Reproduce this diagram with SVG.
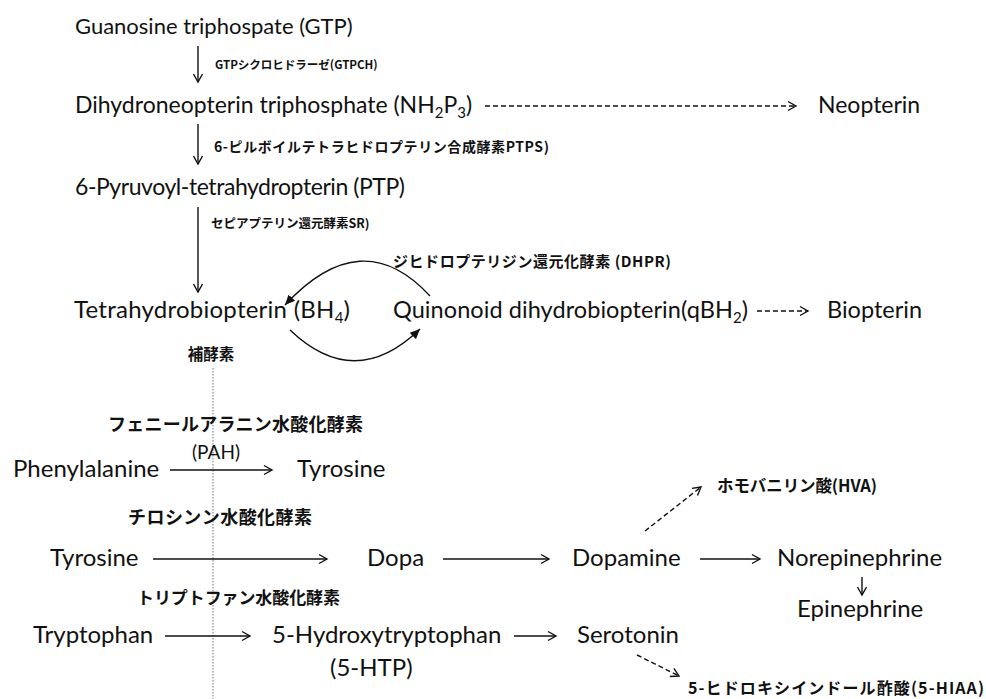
<svg xmlns="http://www.w3.org/2000/svg" width="986" height="699" viewBox="0 0 986 699">
<defs>
<style>
.t{font-family:Lato,"Open Sans","Liberation Sans",sans-serif;fill:#111}
.j{font-family:"Noto Sans CJK JP","Noto Sans",sans-serif;font-weight:bold;fill:#111}
.ln{stroke:#111;stroke-width:1.4;fill:none}
.dash{stroke:#111;stroke-width:1.4;fill:none;stroke-dasharray:5,3}
.dot{stroke:#888;stroke-width:1.2;fill:none;stroke-dasharray:1.5,1.5}
</style>
<marker id="v" markerWidth="12" markerHeight="12" refX="9" refY="6" orient="auto" markerUnits="userSpaceOnUse">
<path d="M1,1.5 L9,6 L1,10.5" fill="none" stroke="#111" stroke-width="1.4"/>
</marker>
<marker id="tri" markerWidth="14" markerHeight="12" refX="10" refY="6" orient="auto" markerUnits="userSpaceOnUse">
<path d="M0,1.5 L10,6 L0,10.5 Z" fill="#111"/>
</marker>
</defs>

<g id="connectors">
<line class="ln" x1="198" y1="46" x2="198" y2="82" marker-end="url(#v)"/>
<line class="ln" x1="198" y1="124" x2="198" y2="164" marker-end="url(#v)"/>
<line class="ln" x1="198" y1="207" x2="198" y2="292" marker-end="url(#v)"/>
<line class="dash" x1="485" y1="106" x2="796" y2="106" marker-end="url(#v)"/>
<path class="ln" d="M430,296 Q362,222 285,305" marker-end="url(#tri)"/>
<path class="ln" d="M290,330 Q355,392 420,329" marker-end="url(#tri)"/>
<line class="dash" x1="757" y1="311" x2="808" y2="311" stroke-dasharray="3,3" marker-end="url(#v)"/>
<line class="dot" x1="213" y1="368" x2="213" y2="699"/>
<line class="ln" x1="170" y1="470" x2="272" y2="470" marker-end="url(#v)"/>
<line class="ln" x1="153" y1="559" x2="327" y2="559" marker-end="url(#v)"/>
<line class="ln" x1="443" y1="559" x2="549" y2="559" marker-end="url(#v)"/>
<line class="ln" x1="700" y1="559" x2="760" y2="559" marker-end="url(#v)"/>
<line class="dash" x1="645" y1="531" x2="701" y2="487" stroke-dasharray="4,3" marker-end="url(#v)"/>
<line class="ln" x1="862" y1="577" x2="862" y2="595" marker-end="url(#v)"/>
<line class="ln" x1="165" y1="636" x2="250" y2="636" marker-end="url(#v)"/>
<line class="ln" x1="514" y1="636" x2="556" y2="636" marker-end="url(#v)"/>
<line class="dash" x1="637" y1="655" x2="679" y2="676" stroke-dasharray="4,3" marker-end="url(#v)"/>
</g>

<g id="gtp"><text class="t" x="75" y="34" style="font-size:22px">Guanosine triphospate (GTP)</text></g>
<g id="gtpch-label"><text class="j" x="215" y="69" style="font-size:11.5px">GTPシクロヒドラーゼ(GTPCH)</text></g>
<g id="nh2p3"><text class="t" x="75" y="113" style="font-size:23px">Dihydroneopterin triphosphate (NH<tspan style="font-size:15px" dy="5">2</tspan><tspan dy="-5">P</tspan><tspan style="font-size:15px" dy="5">3</tspan><tspan dy="-5">)</tspan></text></g>
<g id="neopterin"><text class="t" x="818" y="113" style="font-size:23px">Neopterin</text></g>
<g id="ptps-label"><text class="j" x="214" y="152" style="font-size:14px" textLength="335">6-ピルボイルテトラヒドロプテリン合成酵素PTPS)</text></g>
<g id="ptp"><text class="t" x="75" y="195" style="font-size:23px" textLength="330">6-Pyruvoyl-tetrahydropterin (PTP)</text></g>
<g id="sr-label"><text class="j" x="211" y="228" style="font-size:12.5px">セピアプテリン還元酵素SR)</text></g>
<g id="dhpr-label"><text class="j" x="393" y="267" style="font-size:15px" textLength="278">ジヒドロプテリジン還元化酵素 (DHPR)</text></g>
<g id="bh4"><text class="t" x="74" y="318" style="font-size:24px" textLength="276">Tetrahydrobiopterin (BH<tspan style="font-size:15px" dy="5">4</tspan><tspan dy="-5">)</tspan></text></g>
<g id="qbh2"><text class="t" x="393" y="318" style="font-size:23.5px" textLength="355">Quinonoid dihydrobiopterin(qBH<tspan style="font-size:15px" dy="5">2</tspan><tspan dy="-5">)</tspan></text></g>
<g id="biopterin"><text class="t" x="827" y="318" style="font-size:23.5px">Biopterin</text></g>
<g id="coenzyme"><text class="j" x="211" y="360" text-anchor="middle" style="font-size:15.5px">補酵素</text></g>

<g id="pah-label"><text class="j" x="108" y="431" style="font-size:18px" textLength="255">フェニールアラニン水酸化酵素</text><text class="t" x="192" y="459" style="font-size:19px">(PAH)</text></g>
<g id="phenylalanine"><text class="t" x="13" y="477" style="font-size:24px">Phenylalanine</text></g>
<g id="tyrosine1"><text class="t" x="297" y="477" style="font-size:24px">Tyrosine</text></g>
<g id="th-label"><text class="j" x="128" y="524" style="font-size:18px" textLength="184">チロシンン水酸化酵素</text></g>
<g id="tyrosine2"><text class="t" x="50" y="566" style="font-size:24px">Tyrosine</text></g>
<g id="dopa"><text class="t" x="367" y="566" style="font-size:24px">Dopa</text></g>
<g id="dopamine"><text class="t" x="572" y="566" style="font-size:24px">Dopamine</text></g>
<g id="hva"><text class="j" x="717" y="492" style="font-size:16.5px" textLength="160">ホモバニリン酸(HVA)</text></g>
<g id="norepinephrine"><text class="t" x="777" y="566" style="font-size:24px">Norepinephrine</text></g>
<g id="epinephrine"><text class="t" x="797" y="617" style="font-size:24px">Epinephrine</text></g>
<g id="tph-label"><text class="j" x="137" y="604" style="font-size:17px" textLength="203">トリプトファン水酸化酵素</text></g>
<g id="tryptophan"><text class="t" x="33" y="643" style="font-size:24px">Tryptophan</text></g>
<g id="htp"><text class="t" x="272" y="643" style="font-size:24px">5-Hydroxytryptophan</text><text class="t" x="330" y="676" style="font-size:24px">(5-HTP)</text></g>
<g id="serotonin"><text class="t" x="577" y="643" style="font-size:24px">Serotonin</text></g>
<g id="hiaa"><text class="j" x="688" y="694" style="font-size:16px" textLength="296">5-ヒドロキシインドール酢酸(5-HIAA)</text></g>
</svg>
